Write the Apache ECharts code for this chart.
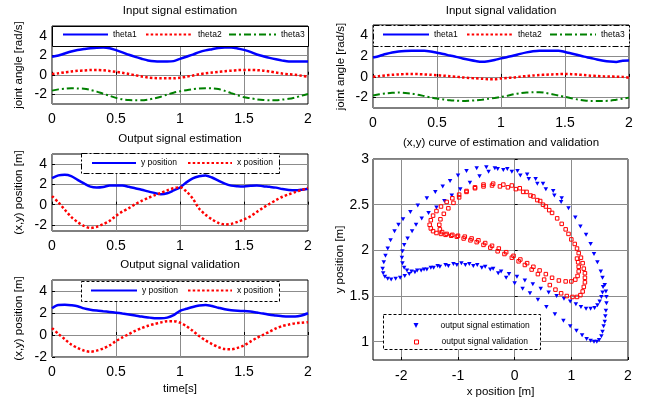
<!DOCTYPE html>
<html>
<head>
<meta charset="utf-8">
<script src="https://cdn.jsdelivr.net/npm/echarts@6/dist/echarts.min.js"></script>
<style>
html, body { margin: 0; padding: 0; background: #fff; }
#chart { width: 652px; height: 402px; }
</style>
</head>
<body>
<div id="chart"></div>
<script>
// time base of the line plots [s]
const times = [0, 0.05, 0.1, 0.15, 0.2, 0.25, 0.3, 0.35, 0.4, 0.45, 0.5, 0.55, 0.6, 0.65, 0.7, 0.75, 0.8, 0.85, 0.9, 0.95,
  1, 1.05, 1.1, 1.15, 1.2, 1.25, 1.3, 1.35, 1.4, 1.45, 1.5, 1.55, 1.6, 1.65, 1.7, 1.75, 1.8, 1.85, 1.9, 1.95, 2];

// input signal estimation
const theta1Est = [1.84, 1.97, 2.18, 2.38, 2.53, 2.63, 2.72, 2.78, 2.79, 2.72, 2.52, 2.3, 2.05, 1.83, 1.64, 1.47, 1.38, 1.36, 1.36, 1.4,
  1.63, 1.85, 2.07, 2.32, 2.5, 2.62, 2.74, 2.79, 2.79, 2.7, 2.55, 2.35, 2.08, 1.9, 1.73, 1.58, 1.45, 1.36, 1.36, 1.36, 1.36];
const theta2Est = [0.07, 0.15, 0.25, 0.33, 0.4, 0.44, 0.48, 0.49, 0.46, 0.38, 0.3, 0.2, 0.08, -0.05, -0.17, -0.28, -0.34, -0.37, -0.37, -0.37,
  -0.3, -0.2, -0.08, 0.05, 0.15, 0.23, 0.3, 0.36, 0.42, 0.47, 0.49, 0.49, 0.47, 0.42, 0.33, 0.22, 0.12, 0.05, 0, -0.1, -0.2];
const theta3Est = [-1.63, -1.5, -1.44, -1.39, -1.4, -1.43, -1.55, -1.73, -1.95, -2.15, -2.37, -2.52, -2.6, -2.62, -2.62, -2.55, -2.42, -2.25, -2.03, -1.84,
  -1.7, -1.58, -1.48, -1.42, -1.39, -1.4, -1.47, -1.65, -1.88, -2.1, -2.3, -2.41, -2.52, -2.59, -2.62, -2.62, -2.55, -2.47, -2.33, -2.15, -1.97];

// input signal validation
const theta1Val = [1.87, 2.02, 2.2, 2.35, 2.45, 2.5, 2.52, 2.52, 2.52, 2.45, 2.32, 2.2, 2.06, 1.93, 1.78, 1.65, 1.53, 1.45, 1.5, 1.62,
  1.78, 1.92, 2.06, 2.22, 2.36, 2.47, 2.52, 2.52, 2.52, 2.52, 2.4, 2.25, 2.1, 1.95, 1.82, 1.68, 1.56, 1.48, 1.44, 1.55, 1.57];
const theta2Val = [0.02, 0.08, 0.15, 0.2, 0.24, 0.27, 0.28, 0.27, 0.24, 0.2, 0.16, 0.12, 0.06, 0.01, -0.05, -0.1, -0.14, -0.18, -0.22, -0.22,
  -0.15, -0.1, -0.05, 0.02, 0.08, 0.13, 0.18, 0.21, 0.24, 0.26, 0.28, 0.26, 0.22, 0.17, 0.12, 0.08, 0.05, 0.03, 0.02, 0, -0.08];
const theta3Val = [-1.8, -1.68, -1.6, -1.54, -1.51, -1.55, -1.61, -1.72, -1.85, -1.98, -2.09, -2.18, -2.25, -2.29, -2.32, -2.3, -2.26, -2.2, -2.12, -2.03,
  -1.93, -1.82, -1.68, -1.58, -1.51, -1.49, -1.48, -1.55, -1.67, -1.8, -1.93, -2.06, -2.18, -2.27, -2.32, -2.32, -2.32, -2.3, -2.2, -2.1, -2.0];

// output signal estimation
const yEst = [2.62, 2.89, 2.95, 2.82, 2.45, 2.1, 1.78, 1.7, 1.75, 1.88, 1.9, 1.88, 1.76, 1.62, 1.48, 1.31, 1.16, 1.02, 1.12, 1.4,
  1.7, 2.2, 2.6, 2.8, 2.89, 2.68, 2.36, 2.07, 1.88, 1.82, 1.8, 1.86, 1.9, 1.82, 1.76, 1.68, 1.54, 1.45, 1.41, 1.47, 1.57];
const xEst = [0.85, 0.22, -0.5, -1.21, -1.72, -2.1, -2.3, -2.18, -1.93, -1.6, -1.1, -0.68, -0.35, 0.05, 0.38, 0.66, 0.92, 1.16, 1.41, 1.62,
  1.72, 1.3, 0.6, -0.4, -1.0, -1.45, -1.8, -1.95, -1.9, -1.7, -1.45, -1.15, -0.72, -0.3, 0.08, 0.45, 0.78, 1.02, 1.24, 1.45, 1.64];

// output signal validation
const yVal = [2.43, 2.73, 2.74, 2.7, 2.62, 2.42, 2.3, 2.22, 2.16, 2.1, 2.03, 1.95, 1.87, 1.78, 1.68, 1.6, 1.53, 1.52, 1.58, 1.8,
  2.2, 2.38, 2.55, 2.68, 2.73, 2.63, 2.48, 2.34, 2.25, 2.2, 2.18, 2.13, 2.04, 1.95, 1.84, 1.78, 1.71, 1.68, 1.68, 1.78, 1.98];
const xVal = [0.63, 0.1, -0.38, -0.87, -1.18, -1.42, -1.52, -1.42, -1.22, -0.95, -0.55, -0.22, 0.08, 0.38, 0.62, 0.84, 1.0, 1.14, 1.25, 1.26,
  1.12, 0.8, 0.38, -0.1, -0.5, -0.82, -1.1, -1.28, -1.3, -1.17, -0.95, -0.6, -0.27, 0.02, 0.3, 0.6, 0.82, 0.95, 1.06, 1.12, 1.17];

// (x,y) samples of the curve plot
const estPts = [
  [0.82,2.53],[0.7,2.6],[0.55,2.67],[0.4,2.73],[0.25,2.78],[0.1,2.82],[-0.05,2.86],[-0.2,2.88],[-0.35,2.9],[-0.5,2.91],
  [-0.67,2.9],[-0.85,2.87],[-1.0,2.82],[-1.14,2.76],[-1.27,2.7],[-1.4,2.64],[-1.55,2.57],[-1.71,2.49],[-1.84,2.42],[-1.97,2.34],
  [-2.05,2.28],[-2.12,2.21],[-2.19,2.11],[-2.24,2.02],[-2.28,1.94],[-2.31,1.87],[-2.33,1.8],[-2.32,1.75],[-2.29,1.71],[-2.24,1.69],
  [-2.18,1.68],[-2.1,1.69],[-2.02,1.7],[-1.94,1.72],[-1.86,1.74],[-1.76,1.76],[-1.65,1.78],[-1.55,1.79],[-1.43,1.81],[-1.32,1.82],
  [-1.17,1.83],[-1.02,1.84],[-0.87,1.84],[-0.73,1.83],[-0.58,1.81],[-0.43,1.79],[-0.29,1.75],[-0.15,1.7],[0,1.64],[0.14,1.58],
  [0.27,1.53],[0.41,1.46],[0.56,1.38],[0.71,1.3],[0.86,1.23],[0.98,1.17],[1.09,1.12],[1.19,1.07],[1.27,1.03],[1.34,1.01],
  [1.4,1.0],[1.45,1.0],[1.49,1.02],[1.53,1.06],[1.55,1.11],[1.57,1.17],[1.59,1.22],[1.6,1.28],[1.61,1.34],[1.62,1.42],
  [1.62,1.49],[1.61,1.55],[1.59,1.62],[1.55,1.7],[1.52,1.77],[1.46,1.87],[1.4,1.96],[1.34,2.07],[1.26,2.17],[1.16,2.26],
  [1.07,2.36],[0.95,2.46],[0.83,2.57],[0.68,2.65],[0.5,2.73],[0.37,2.78],[0.22,2.83],[0.05,2.87],[-0.13,2.89],[-0.3,2.89],
  [-0.46,2.86],[-0.62,2.81],[-0.79,2.74],[-0.96,2.67],[-1.11,2.6],[-1.24,2.54],[-1.38,2.47],[-1.52,2.41],[-1.64,2.35],[-1.74,2.28],
  [-1.81,2.21],[-1.89,2.13],[-1.95,2.06],[-1.98,1.99],[-1.99,1.92],[-1.98,1.86],[-1.95,1.81],[-1.9,1.78],[-1.82,1.77],[-1.72,1.78],
  [-1.6,1.79],[-1.48,1.81],[-1.36,1.83],[-1.22,1.84],[-1.08,1.85],[-0.94,1.86],[-0.8,1.85],[-0.66,1.84],[-0.52,1.82],[-0.38,1.8],
  [-0.24,1.77],[-0.1,1.74],[0.04,1.71],[0.18,1.67],[0.32,1.63],[0.46,1.58],[0.6,1.54],[0.74,1.5],[0.87,1.47],[0.98,1.44],
  [1.08,1.41],[1.17,1.38],[1.26,1.36],[1.34,1.36],[1.41,1.37],[1.46,1.4],[1.5,1.44],[1.53,1.49],[1.55,1.54],[1.56,1.6]
];
const valPts = [
  [0.61,2.44],[0.5,2.5],[0.4,2.55],[0.28,2.6],[0.15,2.64],[0.02,2.67],[-0.12,2.69],[-0.26,2.7],[-0.4,2.71],[-0.55,2.7],
  [-0.7,2.68],[-0.85,2.65],[-0.98,2.61],[-1.1,2.57],[-1.2,2.53],[-1.3,2.48],[-1.38,2.43],[-1.44,2.38],[-1.48,2.33],[-1.5,2.28],
  [-1.48,2.24],[-1.44,2.21],[-1.38,2.19],[-1.3,2.18],[-1.22,2.17],[-1.12,2.16],[-1.02,2.15],[-0.9,2.13],[-0.78,2.11],[-0.67,2.09],
  [-0.55,2.06],[-0.43,2.03],[-0.3,1.99],[-0.18,1.96],[-0.05,1.92],[0.07,1.88],[0.18,1.84],[0.3,1.79],[0.41,1.74],[0.52,1.68],
  [0.62,1.62],[0.72,1.57],[0.82,1.53],[0.92,1.5],[1.02,1.49],[1.1,1.49],[1.16,1.51],[1.2,1.55],[1.22,1.6],[1.24,1.65],
  [1.24,1.7],[1.24,1.75],[1.22,1.8],[1.2,1.86],[1.17,1.92],[1.13,1.97],[1.1,2.02],[1.06,2.07],[1.0,2.12],[0.95,2.18],
  [0.9,2.23],[0.83,2.29],[0.75,2.35],[0.66,2.41],[0.55,2.48],[0.45,2.54],[0.33,2.59],[0.21,2.64],[0.09,2.68],[-0.05,2.71],
  [-0.2,2.72],[-0.38,2.73],[-0.55,2.72],[-0.7,2.69],[-0.85,2.64],[-0.98,2.58],[-1.08,2.52],[-1.17,2.46],[-1.25,2.4],[-1.31,2.34],
  [-1.33,2.28],[-1.32,2.23],[-1.28,2.2],[-1.2,2.18],[-1.1,2.17],[-1.0,2.16],[-0.88,2.15],[-0.76,2.13],[-0.64,2.11],[-0.52,2.08],
  [-0.4,2.05],[-0.28,2.02],[-0.15,1.98],[-0.02,1.94],[0.1,1.9],[0.22,1.86],[0.33,1.82],[0.44,1.78],[0.55,1.74],[0.66,1.7],
  [0.78,1.67],[0.9,1.66],[1.0,1.66],[1.07,1.68],[1.11,1.72],[1.13,1.77],[1.13,1.82],[1.12,1.87],[1.1,1.91]
];

const angleTicks = [-2, 0, 2, 4];
const timeTicks = [0, 0.5, 1, 1.5, 2];
const curveXTicks = [-2, -1, 0, 1, 2];
const curveYTicks = [1, 1.5, 2, 2.5, 3];

const FONT = '"Liberation Sans", Arial, Helvetica, sans-serif';
const BLUE = '#0000ff', RED = '#ff0000', GREEN = '#008000';
const DOWN_TRIANGLE = 'path://M0,0 L10,0 L5,10 Z';

const pairs = (xs, ys) => xs.map((x, i) => [x, ys[i]]);

const gridBase = { show: true, borderColor: '#000', borderWidth: 1, backgroundColor: 'rgba(0,0,0,0)' };
const grids = [
  { left: 52, top: 26, width: 256, height: 78 },
  { left: 373, top: 25, width: 256, height: 83 },
  { left: 52, top: 154, width: 256, height: 77 },
  { left: 52, top: 280, width: 256, height: 77 },
  { left: 373, top: 159, width: 255, height: 201 }
].map(g => Object.assign({}, gridBase, g));

const nameStyle = { fontSize: 11.5, color: '#000', fontFamily: FONT };

function makeAxis(gi, min, max, ticks, name, gap, margin) {
  return {
    type: 'value', gridIndex: gi, min: min, max: max,
    axisLine: { show: false },
    axisTick: { show: true, inside: true, length: 3, customValues: ticks, lineStyle: { color: '#000' } },
    axisLabel: { customValues: ticks, fontSize: 14, color: '#000', fontFamily: FONT, margin: margin },
    splitLine: { show: true, lineStyle: { color: '#8c8c8c', width: 1 } },
    name: name, nameLocation: 'middle', nameGap: gap, nameTextStyle: nameStyle
  };
}

const xAxes = [
  makeAxis(0, 0, 2, timeTicks, '', 0, 8),
  makeAxis(1, 0, 2, timeTicks, '', 0, 8),
  makeAxis(2, 0, 2, timeTicks, '', 0, 8),
  makeAxis(3, 0, 2, timeTicks, 'time[s]', 26, 8),
  makeAxis(4, -2.5, 2, curveXTicks, 'x position [m]', 26, 9)
];
const yAxes = [
  makeAxis(0, -3, 5, angleTicks, 'joint angle [rad/s]', 27, 5),
  makeAxis(1, -3, 5, angleTicks, 'joint angle [rad/s]', 26, 5),
  makeAxis(2, -2.6, 5, angleTicks, '(x,y) position [m]', 27, 5),
  makeAxis(3, -2, 5, angleTicks, '(x,y) position [m]', 27, 5),
  makeAxis(4, 0.8, 3, curveYTicks, 'y position [m]', 25, 4)
];

const solidStyle = { color: BLUE, width: 2.5, type: 'solid' };
const dotStyle = { color: RED, width: 2.5, type: [2.5, 2.2], cap: 'butt' };
const dashDotStyle = { color: GREEN, width: 2, type: [7, 3, 2, 3], cap: 'butt' };

function lineSeries(name, gi, ys, style) {
  return {
    type: 'line', name: name, xAxisIndex: gi, yAxisIndex: gi,
    data: pairs(times, ys), symbol: 'none', smooth: 0.3,
    lineStyle: style, itemStyle: { color: style.color }, z: 2
  };
}

const series = [
  lineSeries('theta1', 0, theta1Est, solidStyle),
  lineSeries('theta2', 0, theta2Est, dotStyle),
  lineSeries('theta3', 0, theta3Est, dashDotStyle),
  lineSeries('theta1', 1, theta1Val, solidStyle),
  lineSeries('theta2', 1, theta2Val, dotStyle),
  lineSeries('theta3', 1, theta3Val, dashDotStyle),
  lineSeries('y position', 2, yEst, solidStyle),
  lineSeries('x position', 2, xEst, dotStyle),
  lineSeries('y position', 3, yVal, solidStyle),
  lineSeries('x position', 3, xVal, dotStyle),
  {
    type: 'scatter', name: 'output signal estimation', xAxisIndex: 4, yAxisIndex: 4,
    data: estPts, symbol: DOWN_TRIANGLE, symbolSize: [4.5, 4],
    itemStyle: { color: BLUE, opacity: 1 }
  },
  {
    type: 'scatter', name: 'output signal validation', xAxisIndex: 4, yAxisIndex: 4,
    data: valPts, symbol: 'rect', symbolSize: 3.5,
    itemStyle: { color: 'rgba(255,255,255,0)', borderColor: RED, borderWidth: 1, opacity: 1 }
  }
];

const legText = { fontSize: 8.5, color: '#000', fontFamily: FONT };

function leg(name, left, cy, w) {
  return {
    data: [name], left: left, top: cy - 5, itemWidth: w, itemHeight: 10, itemGap: 0, padding: 0,
    selectedMode: false, z: 6,
    itemStyle: { color: 'rgba(0,0,0,0)', borderColor: 'rgba(0,0,0,0)', borderWidth: 0 },
    textStyle: legText
  };
}
function symLeg(name, icon, cx, cy, size, itemStyle) {
  return {
    data: [{ name: name, icon: icon, itemStyle: itemStyle }], left: cx - size / 2, top: cy - size / 2,
    itemWidth: size, itemHeight: size, itemGap: 0, padding: 0, selectedMode: false, z: 6,
    symbolKeepAspect: true,
    textStyle: Object.assign({ padding: [0, 0, 0, 22 - size] }, legText)
  };
}

const legends = [
  leg('theta1', 62, 35, 45), leg('theta2', 145, 35, 47), leg('theta3', 228, 35, 47),
  leg('theta1', 382, 35, 46), leg('theta2', 466, 35, 46), leg('theta3', 549, 35, 46),
  leg('y position', 91, 163.5, 44), leg('x position', 187, 163.5, 44),
  leg('y position', 90, 291, 46), leg('x position', 187, 291, 44),
  symLeg('output signal estimation', DOWN_TRIANGLE, 416, 323.5, 5, { color: BLUE }),
  symLeg('output signal validation', 'rect', 416, 339.5, 4, { color: 'rgba(255,255,255,0)', borderColor: RED, borderWidth: 1 })
];

function box(x, y, w, h, dash) {
  return {
    type: 'rect', z: 5, silent: true,
    shape: { x: x, y: y, width: w, height: h },
    style: { fill: '#fff', stroke: '#000', lineWidth: 1, lineDash: dash }
  };
}
function label(text, x, y) {
  return {
    type: 'text', x: x, y: y, z: 5, silent: true,
    style: { text: text, fill: '#000', font: '11.5px ' + FONT, textAlign: 'center', textVerticalAlign: 'middle' }
  };
}

const graphics = [
  box(52.5, 26.5, 256, 20, null),
  box(373.5, 25.5, 256, 21, [6, 2, 2, 2]),
  box(81.5, 153.5, 198, 20, [6, 2, 2, 2]),
  box(81.5, 281.5, 198, 20, [3, 2]),
  box(383.5, 314.5, 157, 35, [3, 2]),
  label('Input signal estimation', 180, 11),
  label('Input signal validation', 501, 11),
  label('Output signal estimation', 180, 139),
  label('Output signal validation', 180, 265),
  label('(x,y) curve of estimation and validation', 501, 143)
];

const chart = echarts.init(document.getElementById('chart'), null, { renderer: 'canvas' });
chart.setOption({
  animation: false,
  backgroundColor: '#fff',
  textStyle: { fontFamily: FONT },
  grid: grids,
  xAxis: xAxes,
  yAxis: yAxes,
  legend: legends,
  graphic: graphics,
  series: series
});
</script>
</body>
</html>
